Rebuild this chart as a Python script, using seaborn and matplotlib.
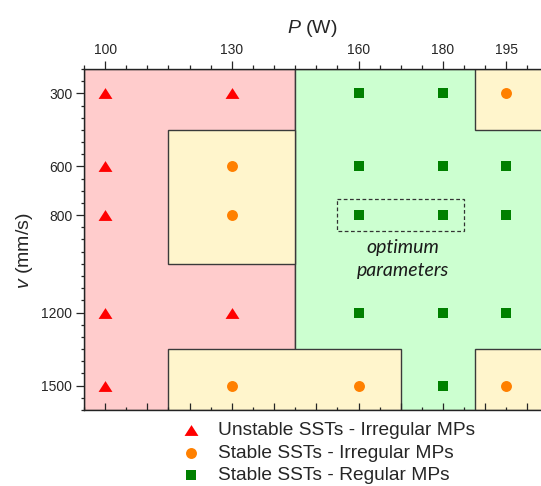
import pandas as pd
import matplotlib.pyplot as plt
import seaborn as sns
from matplotlib.patches import Rectangle
from matplotlib.ticker import MultipleLocator, FixedLocator

# данные
power = [100, 130, 160, 180, 195] * 5
speed = [300] * 5 + [600] * 5 + [800] * 5 + [1200] * 5 + [1500] * 5
kind = ['U', 'U', 'R', 'R', 'I',
        'U', 'I', 'R', 'R', 'R',
        'U', 'I', 'R', 'R', 'R',
        'U', 'U', 'R', 'R', 'R',
        'U', 'I', 'I', 'R', 'I']

labels = {
    'U': 'Unstable SSTs - Irregular MPs',
    'I': 'Stable SSTs - Irregular MPs',
    'R': 'Stable SSTs - Regular MPs',
}
p_ticks = [100, 130, 160, 180, 195]
v_ticks = [300, 600, 800, 1200, 1500]

# области (P0, P1, v0, v1)
red_zone = (95, 145, 200, 1600)
green_zone = (145, 210, 200, 1600)
yellow_zones = [(115, 145, 450, 1000), (115, 170, 1350, 1600),
                (187.5, 210, 200, 450), (187.5, 210, 1350, 1600)]
optimum_box = (155, 185, 735, 865)

df = pd.DataFrame({'P': power, 'v': speed, 'kind': kind})

sns.set_style('ticks')
plt.rcParams['font.family'] = ['Liberation Sans', 'DejaVu Sans']
plt.rcParams['mathtext.fontset'] = 'custom'
plt.rcParams['mathtext.it'] = 'Liberation Sans:italic'
plt.rcParams['mathtext.rm'] = 'Liberation Sans'

fig = plt.figure(figsize=(5.41, 4.86), dpi=100)
ax = fig.add_axes([84 / 541, 76 / 486, 457 / 541, 341 / 486])

edge = '#3a3a3a'


def zone(z, color):
    ax.add_patch(Rectangle((z[0], z[2]), z[1] - z[0], z[3] - z[2],
                           facecolor=color, edgecolor=edge, lw=1.0, zorder=0))


zone(red_zone, '#ffcccc')
zone(green_zone, '#ccffd0')
for z in yellow_zones:
    zone(z, '#fff5cc')

ax.add_patch(Rectangle((optimum_box[0], optimum_box[2]),
                       optimum_box[1] - optimum_box[0], optimum_box[3] - optimum_box[2],
                       fill=False, edgecolor='#333333', lw=0.9, ls=(0, (3, 2)), zorder=1))

styles = {
    'U': dict(marker=[(-1, -0.78), (1, -0.78), (0, 0.78)], color='#ff0000', s=100),
    'I': dict(marker='o', color='#ff8000', s=62),
    'R': dict(marker='s', color='#008000', s=52),
}
for k in ['U', 'I', 'R']:
    sns.scatterplot(data=df[df['kind'] == k], x='P', y='v', ax=ax,
                    linewidth=0, label=labels[k], zorder=3, **styles[k])

ax.text(170.6, 980, 'optimum\nparameters', ha='center', va='center',
        fontsize=14, style='italic', family=['Lato', 'DejaVu Sans'],
        color='#1a1a1a', linespacing=1.42)

ax.set_xlim(95, 203.2)
ax.set_ylim(1600, 200)

# ось Y
ax.yaxis.set_major_locator(FixedLocator(v_ticks))
ax.yaxis.set_minor_locator(MultipleLocator(50))
ax.tick_params(axis='y', which='major', direction='out', length=5.5, width=0.9, labelsize=10, pad=3)
ax.tick_params(axis='y', which='minor', direction='out', length=2.4, width=0.9)
ax.set_ylabel('$v$ (mm/s)', fontsize=14)
ax.yaxis.set_label_coords(-0.108, 0.466)

# нижняя ось - только засечки
ax.xaxis.set_major_locator(MultipleLocator(10))
ax.xaxis.set_minor_locator(MultipleLocator(5))
ax.tick_params(axis='x', which='major', direction='in', length=5, width=0.9, labelbottom=False)
ax.tick_params(axis='x', which='minor', direction='in', length=2.5, width=0.9)
ax.set_xlabel('')

# верхняя ось
ax_top = ax.twiny()
ax_top.set_xlim(ax.get_xlim())
ax_top.xaxis.set_major_locator(FixedLocator(p_ticks))
ax_top.xaxis.set_minor_locator(MultipleLocator(5))
ax_top.tick_params(axis='x', which='major', direction='out', length=5.5, width=0.9, labelsize=10, pad=3)
ax_top.tick_params(axis='x', which='minor', direction='out', length=3.2, width=0.9)
ax_top.set_xlabel('$P$ (W)', fontsize=14, labelpad=7)

for a in (ax, ax_top):
    a.spines['right'].set_visible(False)
    for sp in a.spines.values():
        sp.set_color('#222222')
        sp.set_linewidth(1.0)
ax.spines['top'].set_visible(False)
ax_top.spines['bottom'].set_visible(False)
ax_top.spines['left'].set_visible(False)

ax.legend(loc='upper left', bbox_to_anchor=(181 / 541, 1 - 422 / 486),
          bbox_transform=fig.transFigure, frameon=False, fontsize=13.8,
          handlelength=1.0, handletextpad=0.95, labelspacing=0.25,
          borderpad=0, borderaxespad=0)

fig.savefig('out.png', dpi=100)
